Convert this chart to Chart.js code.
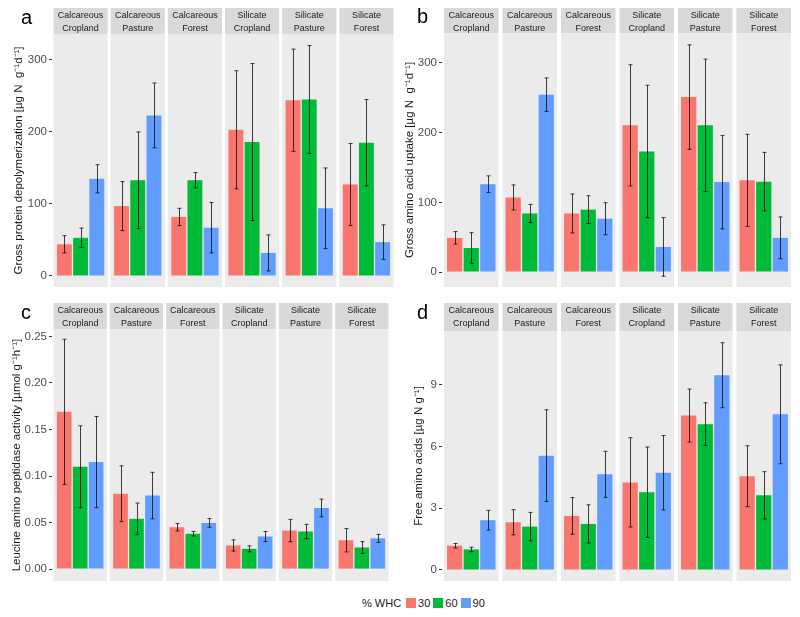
<!DOCTYPE html>
<html>
<head>
<meta charset="utf-8">
<script src="https://cdn.jsdelivr.net/npm/chart.js@4/dist/chart.umd.min.js"></script>
<style>
  body { margin: 0; background: #fff; width: 800px; height: 617px; position: relative; overflow: hidden;
         font-family: "Liberation Sans", Arial, sans-serif; }
  canvas.panel { position: absolute; }
  #legend { position: absolute; left: 362px; top: 597px; display: flex; align-items: center;
            font-size: 11px; color: #1a1a1a; line-height: 12px; }
  #legend .key { width: 10px; height: 10px; display: inline-block; margin: 0 2px 0 3px; }
  #legend .lt { margin-right: 2px; }
</style>
</head>
<body>
<canvas id="panelA" class="panel" width="400" height="300" style="left:0;top:0"></canvas>
<canvas id="panelB" class="panel" width="400" height="300" style="left:400px;top:0"></canvas>
<canvas id="panelC" class="panel" width="400" height="300" style="left:0;top:290px"></canvas>
<canvas id="panelD" class="panel" width="400" height="300" style="left:400px;top:290px"></canvas>
<div id="legend"></div>

<script>
// facets (two-line strip labels) and the water holding capacity levels
const facetNames = [
  ['Calcareous', 'Cropland'], ['Calcareous', 'Pasture'], ['Calcareous', 'Forest'],
  ['Silicate', 'Cropland'], ['Silicate', 'Pasture'], ['Silicate', 'Forest'],
];
const whcLevels = ['30', '60', '90'];
const whcColors = ['#F8766D', '#00BA38', '#619CFF'];

// a: gross protein depolymerization, rows = 30 / 60 / 90 % WHC
const depolyMeans = [
  [44, 97, 82, 203, 244, 127],
  [53, 133, 133, 186, 245, 185],
  [135, 223, 67, 32, 94, 47],
];
const depolyErrs = [
  [12, 34, 12, 82, 71, 57],
  [13.5, 67, 10.5, 109, 75, 60],
  [19.5, 45, 35, 25, 56, 24],
];
const depolyTicks = [0, 100, 200, 300];

// b: gross amino acid uptake
const uptakeMeans = [
  [49, 107, 84, 210.5, 251, 131.6],
  [34.5, 84, 89.5, 173, 210.5, 129.7],
  [126, 254.5, 76.5, 36, 129, 49],
];
const uptakeErrs = [
  [9, 18, 28, 87, 75, 66],
  [22, 13, 20, 95, 95, 42],
  [12, 24, 23, 42, 67, 30],
];
const uptakeTicks = [0, 100, 200, 300];

// c: leucine amino peptidase activity
const lapMeans = [
  [0.169, 0.081, 0.045, 0.0254, 0.0414, 0.031],
  [0.110, 0.054, 0.038, 0.0218, 0.0404, 0.0232],
  [0.115, 0.079, 0.0496, 0.035, 0.0657, 0.033],
];
const lapErrs = [
  [0.078, 0.030, 0.004, 0.006, 0.012, 0.0125],
  [0.044, 0.017, 0.0025, 0.0032, 0.0077, 0.0063],
  [0.049, 0.025, 0.0047, 0.0054, 0.0095, 0.0043],
];
const lapTicks = [0, 0.05, 0.10, 0.15, 0.20, 0.25];

// d: free amino acids
const faaMeans = [
  [1.18, 2.32, 2.63, 4.26, 7.51, 4.56],
  [1.0, 2.11, 2.24, 3.78, 7.09, 3.63],
  [2.42, 5.56, 4.65, 4.73, 9.47, 7.57],
];
const faaErrs = [
  [0.11, 0.61, 0.89, 2.17, 1.29, 1.48],
  [0.11, 0.69, 0.93, 2.2, 1.04, 1.15],
  [0.48, 2.23, 1.12, 1.81, 1.58, 2.4],
];
const faaTicks = [0, 3, 6, 9];

Chart.defaults.font.family = '"Liberation Sans", Arial, sans-serif';

// draws the grey facet panels, the strips and the panel letter, then the error bars
const facetPlugin = {
  id: 'facets',
  beforeDatasetsDraw(chart) {
    const o = chart.config.options.facetOpts;
    const {ctx, chartArea: ca, scales: {x}} = chart;
    const step = (ca.right - ca.left) / facetNames.length;
    ctx.save();
    facetNames.forEach((f, i) => {
      const c = x.getPixelForValue(i);
      const l = c - step / 2 + o.gap / 2;
      const w = step - o.gap;
      ctx.fillStyle = '#EBEBEB';
      ctx.fillRect(l, ca.top, w, ca.bottom - ca.top);
      ctx.fillStyle = '#D9D9D9';
      ctx.fillRect(l, o.stripTop, w, ca.top - o.stripTop);
      ctx.fillStyle = '#1a1a1a';
      ctx.font = '9px "Liberation Sans", Arial, sans-serif';
      ctx.textAlign = 'center';
      ctx.textBaseline = 'middle';
      ctx.fillText(f[0], c, o.stripTop + 7.5);
      ctx.fillText(f[1], c, o.stripTop + 20.5);
    });
    ctx.fillStyle = '#000';
    ctx.font = '20px "Liberation Sans", Arial, sans-serif';
    ctx.textAlign = 'left';
    ctx.textBaseline = 'alphabetic';
    ctx.fillText(o.letter, o.letterX, o.letterY);
    ctx.restore();
  },
  afterDatasetsDraw(chart) {
    const {ctx, scales: {y}} = chart;
    ctx.save();
    ctx.strokeStyle = 'rgba(0,0,0,0.75)';
    ctx.lineWidth = 1;
    chart.data.datasets.forEach((ds, i) => {
      chart.getDatasetMeta(i).data.forEach((bar, j) => {
        const top = y.getPixelForValue(ds.data[j] + ds.errors[j]);
        const bot = y.getPixelForValue(ds.data[j] - ds.errors[j]);
        const xm = Math.round(bar.x) + 0.5;
        ctx.beginPath();
        ctx.moveTo(xm, top); ctx.lineTo(xm, bot);
        ctx.moveTo(xm - 2, top); ctx.lineTo(xm + 2, top);
        ctx.moveTo(xm - 2, bot); ctx.lineTo(xm + 2, bot);
        ctx.stroke();
      });
    });
    ctx.restore();
  },
};

function makePanel(id, means, errs, ticks, cfg) {
  const ctx = document.getElementById(id);
  new Chart(ctx, {
    type: 'bar',
    data: {
      labels: facetNames.map(f => f.join(' ')),
      datasets: whcLevels.map((lvl, k) => ({
        label: lvl,
        data: means[k],
        errors: errs[k],
        backgroundColor: whcColors[k],
        borderWidth: 0,
        categoryPercentage: 0.85,
        barPercentage: 0.92,
      })),
    },
    options: {
      responsive: false,
      animation: false,
      events: [],
      facetOpts: cfg,
      layout: {
        padding: {left: 0, top: cfg.area.top, right: 400 - cfg.area.right, bottom: 300 - cfg.area.bottom},
      },
      plugins: {legend: {display: false}, tooltip: {enabled: false}},
      scales: {
        x: {display: false, offset: true},
        y: {
          min: cfg.min,
          max: cfg.max,
          afterBuildTicks: s => { s.ticks = ticks.map(v => ({value: v})); },
          afterFit: s => { s.width = cfg.area.left; },
          ticks: {color: '#4d4d4d', font: {size: 11.5}, padding: 2, callback: v => cfg.fmt(v)},
          grid: {drawOnChartArea: false, drawTicks: true, tickLength: 3, tickColor: '#333', color: '#333'},
          border: {display: false},
          title: {display: true, text: cfg.title, color: '#1a1a1a', font: {size: 11.5},
                  padding: {top: cfg.titlePad, bottom: 0}},
        },
      },
    },
    plugins: [facetPlugin],
  });
}

makePanel('panelA', depolyMeans, depolyErrs, depolyTicks, {
  area: {left: 52, right: 395, top: 34, bottom: 287}, stripTop: 8, gap: 3,
  min: -15.3, max: 336, fmt: v => String(v),
  title: 'Gross protein depolymerization [µg N  g⁻¹d⁻¹]', titlePad: 12,
  letter: 'a', letterX: 21, letterY: 24,
});
makePanel('panelB', uptakeMeans, uptakeErrs, uptakeTicks, {
  area: {left: 42, right: 393, top: 33, bottom: 287}, stripTop: 8, gap: 4,
  min: -21.5, max: 343, fmt: v => String(v),
  title: 'Gross amino acid uptake [µg N  g⁻¹d⁻¹]', titlePad: 3,
  letter: 'b', letterX: 17, letterY: 23,
});
makePanel('panelC', lapMeans, lapErrs, lapTicks, {
  area: {left: 52, right: 390, top: 39, bottom: 292}, stripTop: 13, gap: 3,
  min: -0.0129, max: 0.258, fmt: v => v.toFixed(2),
  title: 'Leucine amino peptidase activity [µmol g⁻¹h⁻¹]', titlePad: 10,
  letter: 'c', letterX: 21, letterY: 29,
});
makePanel('panelD', faaMeans, faaErrs, faaTicks, {
  area: {left: 42, right: 393, top: 41, bottom: 291}, stripTop: 13, gap: 4,
  min: -0.535, max: 11.62, fmt: v => String(v),
  title: 'Free amino acids [µg N g⁻¹]', titlePad: 12,
  letter: 'd', letterX: 17, letterY: 29,
});

// shared legend
const legend = document.getElementById('legend');
legend.innerHTML = '<span class="lt">% WHC</span>' +
  whcLevels.map((lvl, k) => '<span class="key" style="background:' + whcColors[k] + '"></span><span>' + lvl + '</span>').join('');
</script>
</body>
</html>
